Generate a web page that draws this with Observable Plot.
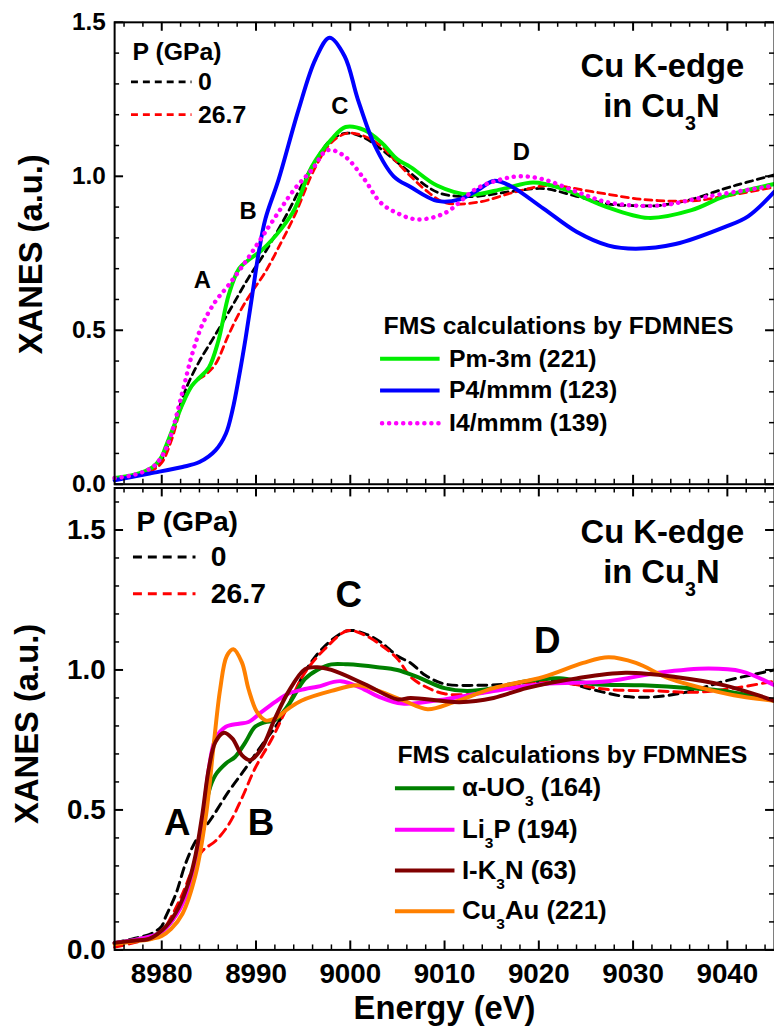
<!DOCTYPE html>
<html><head><meta charset="utf-8">
<script src="https://cdn.jsdelivr.net/npm/d3@7"></script>
<script src="https://cdn.jsdelivr.net/npm/@observablehq/plot@0.6"></script>
<style>
body{margin:0;background:#fff;}
#wrap{position:relative;width:774px;height:1036px;overflow:hidden;background:#fff;}
#wrap svg{position:absolute;left:0;}
</style></head><body>
<div id="wrap"></div>
<script>
// ---------- tick values ----------
const xMajor = [8980, 8990, 9000, 9010, 9020, 9030, 9040];
const xMinor = d3.range(8976, 9045, 2).filter(d => d % 10 !== 0);
const yMajorTop = [0, 0.5, 1.0, 1.5];
const yMinorTop = [0.1,0.2,0.3,0.4,0.6,0.7,0.8,0.9,1.1,1.2,1.3,1.4];
const yMajorBot = [0, 0.5, 1.0, 1.5];
const yMinorBot = [0.1,0.2,0.3,0.4,0.6,0.7,0.8,0.9,1.1,1.2,1.3,1.4,1.6];

// ---------- top panel data ----------
const eExp0T = [8975,8977,8979,8980,8981,8982.2,8983,8984,8985.7,8987.5,8989.2,8991,8993.4,8994.5,8996.3,8998,8999.7,9001.5,9003.2,9005,9006.4,9008,9009.5,9011.5,9013.4,9017,9020.5,9024,9027.4,9030,9032.7,9036.2,9039.7,9042,9045];
const vExp0T = [0.02,0.03,0.05,0.08,0.16,0.28,0.34,0.40,0.486,0.58,0.67,0.755,0.884,0.95,1.05,1.12,1.14,1.125,1.09,1.045,1.01,0.97,0.945,0.935,0.935,0.95,0.96,0.935,0.91,0.905,0.905,0.925,0.96,0.98,1.005];
const eExp27T = [8975,8977,8979,8980,8981,8982.2,8983.5,8984.7,8985.7,8987.1,8988.5,8989.6,8991,8992.7,8994.1,8996.3,8998,8999.7,9001.5,9003.2,9004.5,9006.4,9008,9010,9013.4,9017.6,9021.1,9025.7,9031,9036.2,9039.7,9045];
const vExp27T = [0.015,0.025,0.045,0.07,0.14,0.26,0.33,0.357,0.39,0.486,0.572,0.626,0.69,0.787,0.873,1.03,1.11,1.14,1.13,1.10,1.06,1.0,0.955,0.915,0.915,0.95,0.97,0.95,0.925,0.92,0.935,0.965];
const ePm3m = [8975,8977,8979,8980,8980.4,8981.3,8982.2,8983.2,8984,8985,8986,8987.1,8988.2,8989.2,8990.6,8992.7,8994.1,8995.9,8998,8999.5,9001.5,9003.3,9005,9006.4,9009.2,9012.7,9016.3,9019.4,9022.5,9026.8,9031.6,9036.2,9039.7,9045];
const vPm3m = [0.02,0.03,0.055,0.09,0.12,0.19,0.26,0.32,0.346,0.379,0.465,0.615,0.70,0.728,0.76,0.83,0.894,1.03,1.12,1.16,1.15,1.11,1.055,1.03,0.97,0.94,0.96,0.98,0.96,0.905,0.865,0.89,0.935,0.975];
const eP4 = [8975,8978.7,8982.2,8984,8985.7,8986.8,8987.5,8988.2,8988.9,8989.6,8990.3,8991,8992.4,8994.5,8996.3,8997.8,8999.4,9000.8,9002.6,9004.6,9006.4,9009.2,9011.6,9013.5,9015.2,9016.9,9020.5,9024,9027.4,9030.3,9034.5,9039.7,9042.2,9045];
const vP4 = [0.013,0.035,0.056,0.072,0.11,0.164,0.24,0.35,0.475,0.615,0.755,0.862,0.99,1.215,1.38,1.45,1.39,1.25,1.10,1.0,0.965,0.92,0.925,0.955,0.985,0.97,0.895,0.82,0.775,0.765,0.78,0.835,0.87,0.95];
const eI4 = [8975,8977,8979,8980,8980.8,8982.2,8983.2,8984.3,8985.7,8987.1,8988.9,8990.3,8991.7,8994.1,8995.9,8997.6,8999.4,9001.5,9003.2,9005,9007.1,9010,9013.4,9016,9018,9020.5,9024,9027.4,9032.7,9038,9045];
const vI4 = [0.02,0.03,0.055,0.09,0.143,0.30,0.42,0.518,0.594,0.647,0.723,0.787,0.852,0.959,1.02,1.085,1.065,0.99,0.915,0.88,0.86,0.88,0.96,0.99,1.0,0.99,0.95,0.915,0.905,0.935,0.97];

// ---------- bottom panel data ----------
const eExp0B = [8975,8977,8979,8980,8980.4,8981.5,8982.5,8983.6,8985.3,8987.1,8988.9,8990.6,8992.4,8994.1,8995.3,8997.3,8999.7,9001.5,9003.2,9005,9006.4,9008,9010,9013.4,9017,9022.2,9025.7,9029.2,9032.7,9036.2,9039.7,9045];
const vExp0B = [0.025,0.04,0.06,0.085,0.117,0.2,0.306,0.389,0.471,0.566,0.649,0.731,0.814,0.92,1.0,1.085,1.14,1.13,1.10,1.05,1.025,0.98,0.95,0.945,0.95,0.96,0.93,0.905,0.905,0.925,0.96,1.0];
const eExp27B = [8975,8977,8979,8980,8980.8,8982.2,8983.2,8984.3,8985.7,8987.1,8988.5,8989.9,8991.7,8993.4,8995.2,8997.3,8999.7,9001.5,9003.2,9005,9006.4,9008,9010,9013.4,9018.7,9022.2,9027.4,9032.7,9036.2,9039.7,9045];
const vExp27B = [0.01,0.025,0.045,0.065,0.105,0.2,0.283,0.353,0.389,0.448,0.542,0.649,0.755,0.873,0.991,1.075,1.14,1.125,1.09,1.04,0.975,0.94,0.915,0.915,0.955,0.955,0.93,0.925,0.92,0.93,0.96];
const eUO3 = [8975,8977,8979,8980,8981,8982,8983.2,8984.3,8985,8985.7,8986.8,8987.8,8988.9,8989.9,8991,8992,8993.4,8995.2,8996.5,8998,8999.7,9002.9,9005,9007.1,9010,9012.4,9015.2,9018.7,9022.2,9025.7,9031,9036.2,9039.7,9045];
const vUO3 = [0.025,0.035,0.05,0.065,0.1,0.16,0.247,0.41,0.566,0.625,0.666,0.69,0.743,0.797,0.814,0.82,0.873,0.968,1.0,1.02,1.02,1.01,1.0,0.975,0.935,0.925,0.935,0.96,0.97,0.95,0.945,0.935,0.925,0.89];
const eLi3P = [8975,8977,8979,8980,8981,8982,8983.2,8984.3,8985,8985.7,8986.8,8988.2,8989.2,8990.6,8992,8993.4,8995.2,8996.5,8999,9001.5,9003,9005.5,9010,9015.2,9020.5,9027.4,9032.7,9038,9041.5,9045];
const vLi3P = [0.025,0.035,0.05,0.065,0.1,0.15,0.25,0.46,0.649,0.755,0.797,0.808,0.814,0.85,0.885,0.915,0.932,0.94,0.96,0.93,0.905,0.88,0.895,0.925,0.95,0.96,0.99,1.005,0.995,0.945];
const eK3N = [8975,8977,8978.7,8980.4,8981.8,8982.9,8983.6,8984.3,8985,8985.7,8986.6,8987.5,8988.5,8989.4,8990.6,8992,8993.4,8995.2,8996.5,8998,9001.5,9005,9006.4,9011.6,9015.2,9018.7,9024,9029.2,9034.5,9039.7,9045];
const vK3N = [0.025,0.033,0.04,0.082,0.152,0.247,0.341,0.483,0.649,0.743,0.776,0.755,0.696,0.678,0.72,0.826,0.92,1.003,1.01,1.0,0.95,0.895,0.90,0.885,0.90,0.935,0.97,0.99,0.975,0.945,0.89];
const eCu3Au = [8975,8977,8979,8980,8981,8982.2,8983.6,8984.7,8985.5,8986.2,8986.9,8987.6,8988.5,8989.2,8990.1,8991,8992,8993.4,8994.8,8998,9000.8,9003,9005.7,9008.2,9011,9015.2,9020.5,9024.7,9027.4,9030.3,9033.8,9038,9041.5,9045];
const vCu3Au = [0.02,0.03,0.04,0.05,0.075,0.129,0.27,0.483,0.73,0.932,1.05,1.074,1.027,0.932,0.85,0.82,0.826,0.861,0.89,0.925,0.945,0.925,0.89,0.86,0.885,0.935,0.975,1.025,1.045,1.025,0.97,0.93,0.905,0.89];

// ---------- text ----------
const pLegendTitle = "P (GPa)";
const pLegendLabels = ["0", "26.7"];
const titleLines = ["Cu K-edge", "in Cu_3N"];
const fmsTitle = "FMS calculations by FDMNES";
const topCalcLabels = ["Pm-3m (221)", "P4/mmm (123)", "I4/mmm (139)"];
const botCalcLabels = ["α-UO_3 (164)", "Li_3P (194)", "I-K_3N (63)", "Cu_3Au (221)"];
const yTitle = "XANES (a.u.)";
const xTitle = "Energy (eV)";

// ---------- layout helpers (pixel -> data, annotations only) ----------
const FONT = "'Liberation Sans', Arial, sans-serif";
const X0 = 8975, X1 = 9045, PXE = (780 - 115) / (X1 - X0);
const xp = px => X0 + (px - 115) / PXE;
const kT = 465.5 / 1.5;   // px per unit top
const kB = 465.5 / 1.65;  // px per unit bottom
const ypT = py => (487.5 - py) / kT;
const ypB = py => (953 - py) / kB;

const ser = (E, V) => E.map((e, i) => ({e, v: V[i]}));

function frameTicks(yMaj, yMin, yTop, k) {
  const tx = 9 / PXE, tm = 5 / PXE, ty = 9 / k, tym = 5 / k;
  const S = {stroke: "black"};
  return [
    Plot.ruleX(xMajor, {x: d => d, y1: 0, y2: ty, strokeWidth: 2, ...S}),
    Plot.ruleX(xMinor, {x: d => d, y1: 0, y2: tym, strokeWidth: 1.5, ...S}),
    Plot.ruleX(xMajor, {x: d => d, y1: yTop, y2: yTop - ty, strokeWidth: 2, ...S}),
    Plot.ruleX(xMinor, {x: d => d, y1: yTop, y2: yTop - tym, strokeWidth: 1.5, ...S}),
    Plot.ruleY(yMaj, {y: d => d, x1: X0, x2: X0 + tx, strokeWidth: 2, ...S}),
    Plot.ruleY(yMin, {y: d => d, x1: X0, x2: X0 + tm, strokeWidth: 1.5, ...S}),
    Plot.ruleY(yMaj, {y: d => d, x1: X1, x2: X1 - tx, strokeWidth: 2, ...S}),
    Plot.ruleY(yMin, {y: d => d, x1: X1, x2: X1 - tm, strokeWidth: 1.5, ...S}),
    Plot.frame({stroke: "black", strokeWidth: 2})
  ];
}
const T = (txt, x, y, fs, anchor = "start") =>
  Plot.text([txt], {x, y, text: d => d, fontSize: fs, fontWeight: "bold", fontFamily: FONT, textAnchor: anchor, lineAnchor: "middle", fill: "black"});
const L = (x1, x2, y, stroke, sw, dash, cap = "butt") =>
  Plot.ruleY([y], {y: d => d, x1, x2, stroke, strokeWidth: sw, strokeDasharray: dash, strokeLinecap: cap});

const dashT = "7 5", dashB = "9 6";

// ---------- top panel ----------
const topPlot = Plot.plot({
  width: 780, height: 488,
  marginLeft: 115, marginRight: 0, marginTop: 22, marginBottom: 0.5,
  x: {domain: [X0, X1], axis: null},
  y: {domain: [0, 1.5], axis: null},
  style: {background: "transparent", fontFamily: FONT, fontWeight: "bold", overflow: "visible"},
  marks: [
    Plot.line(ser(eExp0T, vExp0T), {x: "e", y: "v", stroke: "black", strokeWidth: 2.8, strokeDasharray: dashT, curve: "catmull-rom"}),
    Plot.line(ser(eExp27T, vExp27T), {x: "e", y: "v", stroke: "#ff0000", strokeWidth: 2.8, strokeDasharray: dashT, curve: "catmull-rom"}),
    Plot.line(ser(ePm3m, vPm3m), {x: "e", y: "v", stroke: "#00ee00", strokeWidth: 4, curve: "catmull-rom"}),
    Plot.line(ser(eP4, vP4), {x: "e", y: "v", stroke: "#0000ff", strokeWidth: 4, curve: "catmull-rom"}),
    Plot.line(ser(eI4, vI4), {x: "e", y: "v", stroke: "#ff00ff", strokeWidth: 4.5, strokeDasharray: "0.1 7", strokeLinecap: "round", curve: "catmull-rom"}),
    ...frameTicks(yMajorTop, yMinorTop, 1.5, kT),
    Plot.text(yMajorTop, {x: X0, y: d => d, text: d => d.toFixed(1), dx: -9, textAnchor: "end", fontSize: 24.5, fontWeight: "bold", fontFamily: FONT}),
    Plot.text([yTitle], {frameAnchor: "left", rotate: -90, dx: -84, dy: 1, textAnchor: "middle", lineAnchor: "middle", fontSize: 33, fontWeight: "bold", fontFamily: FONT}),
    T(pLegendTitle, xp(133), ypT(52), 25),
    L(xp(132), xp(193), ypT(82), "black", 2.8, dashT),
    T(pLegendLabels[0], xp(199), ypT(82), 25),
    L(xp(132), xp(193), ypT(115), "#ff0000", 2.8, dashT),
    T(pLegendLabels[1], xp(199), ypT(115), 25),
    T(titleLines[0], xp(667), ypT(67), 33, "middle"),
    T(titleLines[1], xp(666), ypT(107), 33, "middle"),
    T("A", xp(203.5), ypT(282), 24, "middle"),
    T("B", xp(249.5), ypT(213), 24, "middle"),
    T("C", xp(342), ypT(107), 24, "middle"),
    T("D", xp(525), ypT(153), 24, "middle"),
    T(fmsTitle, xp(386), ypT(328), 25),
    L(xp(383), xp(443), ypT(361), "#00ee00", 4),
    T(topCalcLabels[0], xp(452), ypT(361), 25),
    L(xp(383), xp(443), ypT(393), "#0000ff", 4),
    T(topCalcLabels[1], xp(452), ypT(393), 25),
    L(xp(385), xp(443), ypT(426), "#ff00ff", 4.5, "0.1 7", "round"),
    T(topCalcLabels[2], xp(452), ypT(426), 25)
  ]
});

// ---------- bottom panel ----------
const botPlot = Plot.plot({
  width: 780, height: 549,
  marginLeft: 115, marginRight: 0, marginTop: 0.5, marginBottom: 83,
  x: {domain: [X0, X1], axis: null},
  y: {domain: [0, 1.65], axis: null},
  style: {background: "transparent", fontFamily: FONT, fontWeight: "bold", overflow: "visible"},
  marks: [
    Plot.line(ser(eExp0B, vExp0B), {x: "e", y: "v", stroke: "black", strokeWidth: 3, strokeDasharray: dashB, curve: "catmull-rom"}),
    Plot.line(ser(eExp27B, vExp27B), {x: "e", y: "v", stroke: "#ff0000", strokeWidth: 3, strokeDasharray: dashB, curve: "catmull-rom"}),
    Plot.line(ser(eUO3, vUO3), {x: "e", y: "v", stroke: "#008000", strokeWidth: 4, curve: "catmull-rom"}),
    Plot.line(ser(eLi3P, vLi3P), {x: "e", y: "v", stroke: "#ff00ff", strokeWidth: 4, curve: "catmull-rom"}),
    Plot.line(ser(eCu3Au, vCu3Au), {x: "e", y: "v", stroke: "#ff8000", strokeWidth: 4, curve: "catmull-rom"}),
    Plot.line(ser(eK3N, vK3N), {x: "e", y: "v", stroke: "#800000", strokeWidth: 4, curve: "catmull-rom"}),
    ...frameTicks(yMajorBot, yMinorBot, 1.65, kB),
    Plot.text(yMajorBot, {x: X0, y: d => d, text: d => d.toFixed(1), dx: -9, textAnchor: "end", fontSize: 28, fontWeight: "bold", fontFamily: FONT}),
    Plot.text(xMajor, {x: d => d, y: 0, text: d => String(d), dy: 24, fontSize: 28, fontWeight: "bold", fontFamily: FONT}),
    Plot.text([yTitle], {frameAnchor: "left", rotate: -90, dx: -88, dy: 5, textAnchor: "middle", lineAnchor: "middle", fontSize: 33, fontWeight: "bold", fontFamily: FONT}),
    Plot.text([xTitle], {frameAnchor: "bottom", dy: 59, textAnchor: "middle", lineAnchor: "middle", fontSize: 33, fontWeight: "bold", fontFamily: FONT}),
    T(pLegendTitle, xp(137), ypB(522), 28.5),
    L(xp(134), xp(197), ypB(557), "black", 3, dashB),
    T(pLegendLabels[0], xp(212), ypB(557), 28.5),
    L(xp(134), xp(197), ypB(594), "#ff0000", 3, dashB),
    T(pLegendLabels[1], xp(212), ypB(594), 28.5),
    T(titleLines[0], xp(667), ypB(532), 33, "middle"),
    T(titleLines[1], xp(666), ypB(573), 33, "middle"),
    T("A", xp(178), ypB(825), 37, "middle"),
    T("B", xp(262.5), ypB(825), 37, "middle"),
    T("C", xp(351), ypB(596), 37, "middle"),
    T("D", xp(551), ypB(642), 37, "middle"),
    T(fmsTitle, xp(400), ypB(757), 25),
    L(xp(398), xp(458), ypB(790), "#008000", 4),
    T(botCalcLabels[0], xp(465), ypB(790), 26),
    L(xp(398), xp(458), ypB(832), "#ff00ff", 4),
    T(botCalcLabels[1], xp(465), ypB(832), 26),
    L(xp(398), xp(458), ypB(873), "#800000", 4),
    T(botCalcLabels[2], xp(465), ypB(873), 26),
    L(xp(398), xp(458), ypB(914), "#ff8000", 4),
    T(botCalcLabels[3], xp(465), ypB(914), 26)
  ]
});

topPlot.style.top = "0px";
botPlot.style.top = "487px";
const wrap = document.getElementById("wrap");
wrap.appendChild(topPlot);
wrap.appendChild(botPlot);

// subscripts: "_3" -> lowered small 3
function subscripts(svg) {
  d3.select(svg).selectAll("text").each(function() {
    const t = this.textContent;
    if (!t.includes("_")) return;
    const fs = parseFloat(getComputedStyle(this).fontSize) || 25;
    const sel = d3.select(this);
    sel.text(null);
    const parts = t.split(/_(\d)/);
    let shifted = false;
    parts.forEach((p, i) => {
      if (i % 2 === 0) {
        if (!p) return;
        const ts = sel.append("tspan").text(p);
        if (shifted) { ts.attr("dy", -0.38 * fs); shifted = false; }
      } else {
        sel.append("tspan").attr("font-size", (0.6 * fs) + "px").attr("dy", 0.38 * fs).text(p);
        shifted = true;
      }
    });
  });
}
subscripts(topPlot);
subscripts(botPlot);
</script>
</body></html>
